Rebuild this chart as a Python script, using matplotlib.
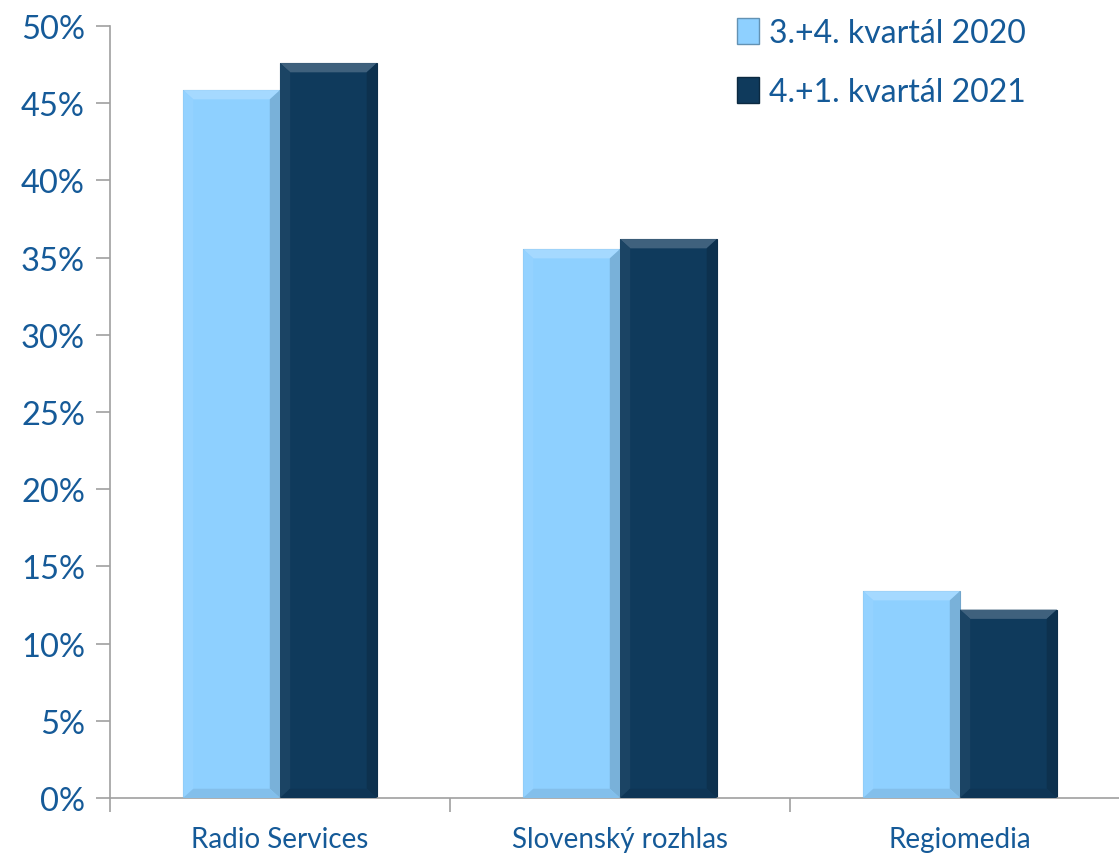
import numpy as np
import matplotlib.pyplot as plt
from matplotlib.patches import Polygon, Patch

plt.rcParams['font.family'] = ['Lato', 'DejaVu Sans']

categories = ["Radio Services", "Slovenský rozhlas", "Regiomedia"]
series_names = ["3.+4. kvartál 2020", "4.+1. kvartál 2021"]
values_2020 = [45.85, 35.55, 13.4]
values_2021 = [47.6, 36.2, 12.2]
yticks = [0, 5, 10, 15, 20, 25, 30, 35, 40, 45, 50]

text_col = '#155A98'
light = '#8ED0FF'
dark = '#0F3A5C'


def shade(col, f):
    c = np.array(plt.matplotlib.colors.to_rgb(col))
    if f > 0:
        c = c + (1 - c) * f
    else:
        c = c * (1 + f)
    return tuple(np.clip(c, 0, 1))


def bevel_bar(ax, x, w, h, col, bx=0.03, by=0.6):
    # flat face
    ax.bar(x, h, w, color=col, edgecolor=shade(col, -0.2), linewidth=0.8, zorder=2)
    l, r = x - w / 2, x + w / 2
    # top, left, right, bottom bevel strips
    strips = [
        ([(l, h), (r, h), (r - bx, h - by), (l + bx, h - by)], shade(col, 0.2)),
        ([(l, 0), (l, h), (l + bx, h - by), (l + bx, by)], shade(col, 0.05)),
        ([(r, 0), (r, h), (r - bx, h - by), (r - bx, by)], shade(col, -0.15)),
        ([(l, 0), (r, 0), (r - bx, by), (l + bx, by)], shade(col, -0.08)),
    ]
    for pts, c in strips:
        ax.add_patch(Polygon(pts, closed=True, facecolor=c, edgecolor='none', zorder=3))


fig = plt.figure(figsize=(11.19, 8.54), dpi=100)
ax = fig.add_axes([110 / 1119, 55 / 854, 1020 / 1119, 772 / 854])

x = np.arange(len(categories))
w = 0.285
for i in range(len(categories)):
    bevel_bar(ax, x[i] - w / 2, w, values_2020[i], light)
    bevel_bar(ax, x[i] + w / 2, w, values_2021[i], dark)

ax.set_xlim(-0.5, 2.5)
ax.set_ylim(0, 50)
ax.set_yticks(yticks)
ax.set_yticklabels([f"{t}%" for t in yticks])
ax.set_xticks(x)
ax.set_xticklabels(categories)
ax.set_xticks([-0.5, 0.5, 1.5, 2.5], minor=True)
ax.tick_params(axis='x', which='major', length=0, pad=20, labelsize=20, labelcolor=text_col)
ax.tick_params(axis='x', which='minor', length=10, color='#A0A0A0', width=1.2)
ax.tick_params(axis='y', length=10, color='#A0A0A0', width=1.2, labelsize=23.5, labelcolor=text_col, pad=8)

for s in ['top', 'right']:
    ax.spines[s].set_visible(False)
for s in ['left', 'bottom']:
    ax.spines[s].set_color('#A0A0A0')
    ax.spines[s].set_linewidth(1.2)

handles = [Patch(facecolor=light, edgecolor=shade(light, -0.3)),
           Patch(facecolor=dark, edgecolor=shade(dark, -0.3))]
leg = ax.legend(handles, series_names, loc='upper left', bbox_to_anchor=(598 / 1020, 1.048),
                frameon=False, fontsize=23, handlelength=0.7, handleheight=0.9,
                handletextpad=0.3, labelspacing=0.9)
for t in leg.get_texts():
    t.set_color(text_col)

fig.savefig('out.png', dpi=100)
